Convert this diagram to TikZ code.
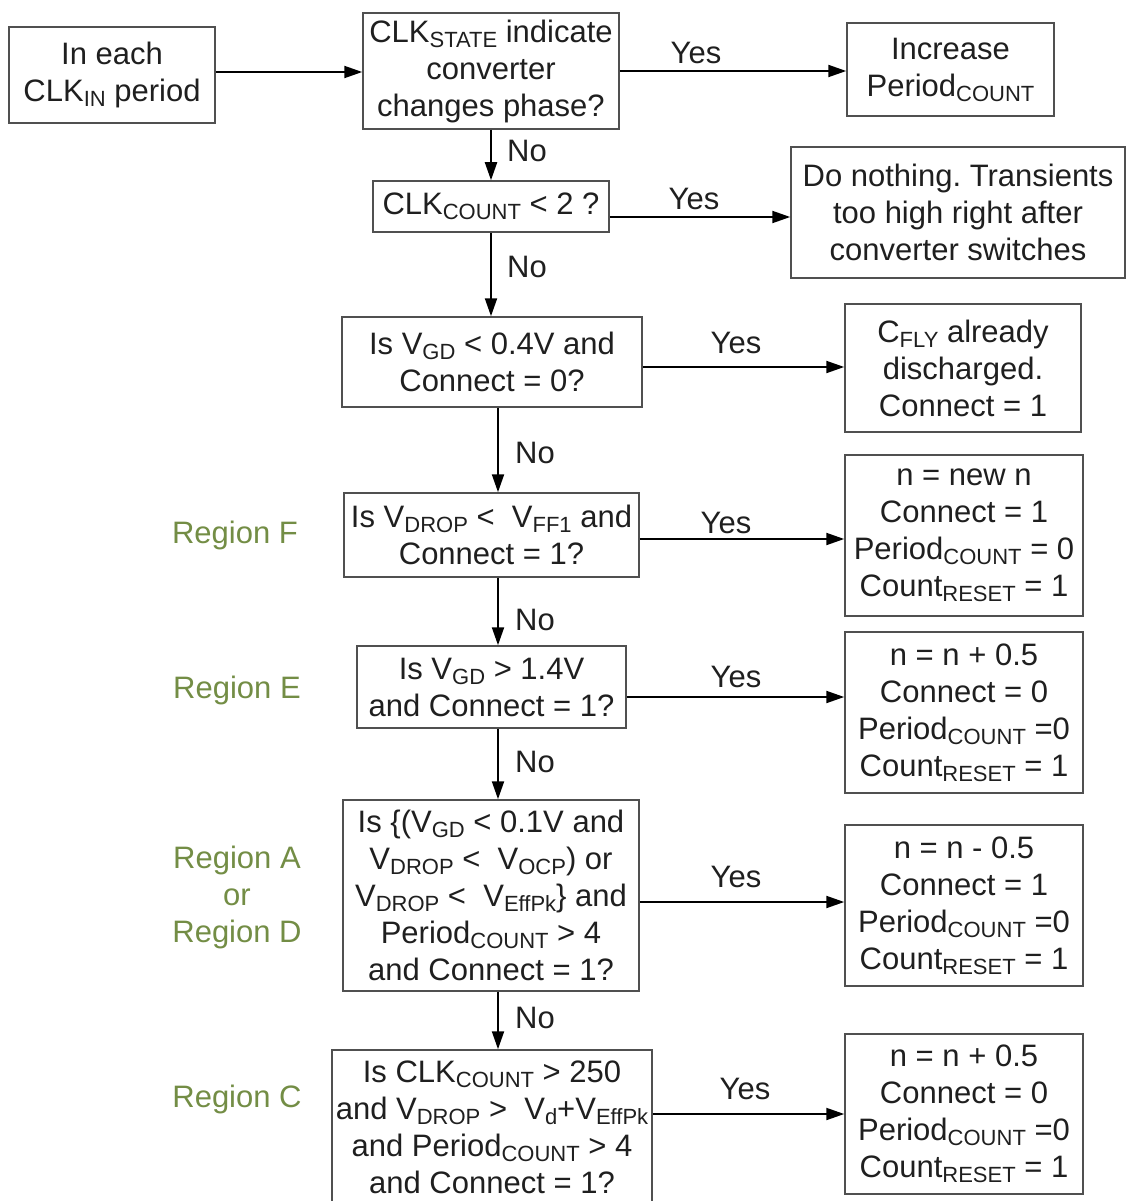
\documentclass[tikz,border=0pt]{standalone}
\usepackage{fontspec}
\setmainfont{Liberation Sans}
\usetikzlibrary{arrows.meta}

\definecolor{regiongreen}{HTML}{738D45}
\definecolor{boxgray}{HTML}{505050}

% small lowered index, e.g. CLK\sbs{IN}
\newcommand{\sbs}[1]{\raisebox{-5pt}{\fontsize{22}{22}\selectfont #1}}
\frenchspacing

\begin{document}
\begin{tikzpicture}[x=1pt, y=-1pt,
        font=\fontsize{31}{37}\selectfont,
        box/.style={draw=boxgray, line width=1.5pt, align=center, inner sep=0pt, text=black!88},
        arr/.style={-{Triangle[length=18pt,width=12pt]}, line width=2pt},
        lbl/.style={text=black!88},
        region/.style={text=regiongreen, align=center}]
    \useasboundingbox (0,0) rectangle (1127,1201);

    % main column of questions
    \node[box, minimum width=206pt, minimum height=96pt] (in) at (112,75) {In each\\CLK\sbs{IN} period};
    \node[box, minimum width=256pt, minimum height=116pt] (state) at (491,71) {CLK\sbs{STATE} indicate\\converter\\changes phase?};
    \node[box, minimum width=236pt, minimum height=51pt] (cnt) at (491,206.5) {CLK\sbs{COUNT} < 2 ?};
    \node[box, minimum width=300pt, minimum height=90pt] (vgd) at (492,362) {Is V\sbs{GD} < 0.4V and\\Connect = 0?};
    \node[box, minimum width=295pt, minimum height=84pt] (regf) at (491.5,535) {Is V\sbs{DROP} <~~V\sbs{FF1} and\\Connect = 1?};
    \node[box, minimum width=269pt, minimum height=82pt] (rege) at (491.5,687) {Is V\sbs{GD} > 1.4V\\and Connect = 1?};
    \node[box, minimum width=296pt, minimum height=191pt] (rega) at (491,895.5) {Is \{(V\sbs{GD} < 0.1V and\\V\sbs{DROP} <~~V\sbs{OCP}) or\\V\sbs{DROP} <~~V\sbs{EffPk}\} and\\Period\sbs{COUNT} > 4\\and Connect = 1?};
    \node[box, minimum width=320pt, minimum height=154pt] (regc) at (492,1127) {Is CLK\sbs{COUNT} > 250\\and V\sbs{DROP} >~~V\sbs{d}+V\sbs{EffPk}\\and Period\sbs{COUNT} > 4\\and Connect = 1?};

    % actions on the right
    \node[box, minimum width=207pt, minimum height=93pt] (inc) at (950.5,69.5) {Increase\\Period\sbs{COUNT}};
    \node[box, minimum width=334pt, minimum height=131pt] (none) at (958,212.5) {Do nothing. Transients\\too high right after\\converter switches};
    \node[box, minimum width=236pt, minimum height=128pt] (fly) at (963,368) {C\sbs{FLY} already\\discharged.\\Connect = 1};
    \node[box, minimum width=238pt, minimum height=161pt] (newn) at (964,535.5) {n = new n\\Connect = 1\\Period\sbs{COUNT} = 0\\Count\sbs{RESET} = 1};
    \node[box, minimum width=238pt, minimum height=161pt] (incn) at (964,712.5) {n = n + 0.5\\Connect = 0\\Period\sbs{COUNT} =0\\Count\sbs{RESET} = 1};
    \node[box, minimum width=238pt, minimum height=161pt] (decn) at (964,905.5) {n = n - 0.5\\Connect = 1\\Period\sbs{COUNT} =0\\Count\sbs{RESET} = 1};
    \node[box, minimum width=238pt, minimum height=160pt] (lastn) at (964,1114) {n = n + 0.5\\Connect = 0\\Period\sbs{COUNT} =0\\Count\sbs{RESET} = 1};

    % region names
    \node[region] (lf) at (235,535) {Region F};
    \node[region] (le) at (237,690) {Region E};
    \node[region] (la) at (237,897) {Region A\\or\\Region D};
    \node[region] (lc) at (237,1099) {Region C};

    % arrows
    \coordinate (spine) at (498,0);
    \foreach \a/\b in {state/cnt, cnt/vgd}
        \draw[arr] (\a.south) -- (\a.south |- \b.north);
    \foreach \a/\b in {vgd/regf, regf/rege, rege/rega, rega/regc}
        \draw[arr] (\a.south -| spine) -- (\b.north -| spine);
    \foreach \a/\b/\y in {in/state/72, state/inc/71, cnt/none/217, vgd/fly/367, regf/newn/539, rege/incn/697, rega/decn/902, regc/lastn/1114}
        \draw[arr] (\a.east |- 0,\y) -- (\b.west |- 0,\y);

    % yes / no
    \foreach \n/\x/\y in {no1/527/151, no2/527/267, no3/535/453, no4/535/620, no5/535/762, no6/535/1018}
        \node[lbl] (\n) at (\x,\y) {No};
    \foreach \n/\x/\y in {yes1/696/53, yes2/694/199, yes3/736/343, yes4/726/523, yes5/736/677, yes6/736/877, yes7/745/1089}
        \node[lbl] (\n) at (\x,\y) {Yes};
\end{tikzpicture}
\end{document}
